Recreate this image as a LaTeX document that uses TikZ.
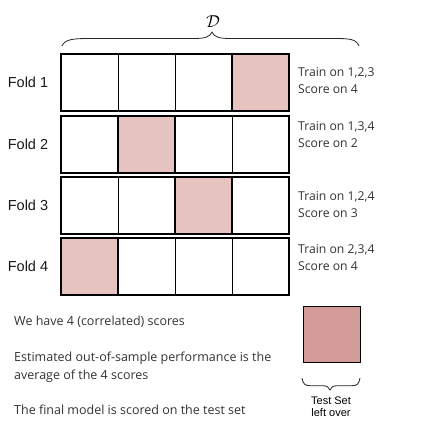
\documentclass[tikz,border=0pt]{standalone}
\usepackage{fontspec}
\setmainfont{Liberation Sans}
\newfontfamily\segoe{Open Sans}
\definecolor{cellpink}{HTML}{E6C3C1}
\definecolor{testpink}{HTML}{D49C98}
\definecolor{txtgray}{HTML}{333333}
\tikzset{
  cellbox/.style={draw=black, line width=0.7pt, minimum width=57pt, minimum height=57pt, inner sep=0pt, outer sep=0pt, anchor=north west},
  hicell/.style={cellbox, fill=cellpink},
  rowframe/.style={draw=black, line width=1.6pt},
  foldlbl/.style={font=\fontsize{14.5}{17}\selectfont, text=black!90, inner sep=0pt},
  scoretxt/.style={font=\segoe\fontsize{12.2}{17}\selectfont, text=txtgray, align=left, anchor=west, inner sep=0pt},
  bottxt/.style={font=\segoe\fontsize{12.5}{18}\selectfont, text=txtgray, align=left, anchor=west, inner sep=0pt},
  bracestyle/.style={draw=black!85, line width=0.8pt},
}
\begin{document}
\begin{tikzpicture}[x=1pt,y=1pt]
\useasboundingbox (0,0) rectangle (427,428);
% rows
\foreach \r/\top/\hi in {1/374/4, 2/312/2, 3/251/3, 4/190/1}{
  \foreach \c in {1,2,3,4}{
    \ifnum\c=\hi
      \node[hicell] (r\r c\c) at ({61+57*(\c-1)},\top) {};
    \else
      \node[cellbox] (r\r c\c) at ({61+57*(\c-1)},\top) {};
    \fi
  }
  \draw[rowframe] (r\r c1.north west) rectangle (r\r c4.south east);
  \draw[rowframe] (r\r c\hi.north west) rectangle (r\r c\hi.south east);
  \node[foldlbl] (fold\r) at (28,\top-28.5) {Fold \r};
}
% right texts
\node[scoretxt] (s1) at (298,347.5) {Train on 1,2,3\\Score on 4};
\node[scoretxt] (s2) at (298,293) {Train on 1,3,4\\Score on 2};
\node[scoretxt] (s3) at (298,223) {Train on 1,2,4\\Score on 3};
\node[scoretxt] (s4) at (298,170) {Train on 2,3,4\\Score on 4};
% top brace
\coordinate (bl) at (62,382);
\coordinate (bt) at (212,396);
\coordinate (br) at (359,382);
\draw[bracestyle] (bl) .. controls (65,389) and (74,389.5) .. (90,389.5) -- (194,389.5)
  .. controls (205,389.5) and (210,391) .. (bt)
  .. controls (214,391) and (219,389.5) .. (230,389.5) -- (334,389.5)
  .. controls (350,389.5) and (356,389) .. (br);
\node[inner sep=0pt, font=\fontsize{17}{19}\selectfont] (D) at (213,406) {$\mathcal{D}$};
% bottom texts
\node[bottxt] (b1) at (14,106) {We have 4 (correlated) scores};
\node[bottxt] (b2) at (14,61) {Estimated out-of-sample performance is the\\average of the 4 scores};
\node[bottxt] (b3) at (14,18) {The final model is scored on the test set};
% test set
\node[draw=black, line width=1.6pt, fill=testpink, minimum width=57pt, minimum height=56pt, inner sep=0pt] (test) at (332,93.5) {};
\coordinate (tl) at (302,50);
\coordinate (tt) at (330,38);
\coordinate (tr) at (360,50);
\draw[bracestyle] (tl) .. controls (303,44) and (305,42.3) .. (310,42.3) -- (322,42.3)
  .. controls (327,42.3) and (329,41) .. (tt)
  .. controls (331,41) and (333,42.3) .. (338,42.3) -- (352,42.3)
  .. controls (357,42.3) and (359,44) .. (tr);
\node[font=\fontsize{11}{12.5}\selectfont, align=center, inner sep=0pt] (testlbl) at (331,21.5) {Test Set\\left over};
\end{tikzpicture}
\end{document}
